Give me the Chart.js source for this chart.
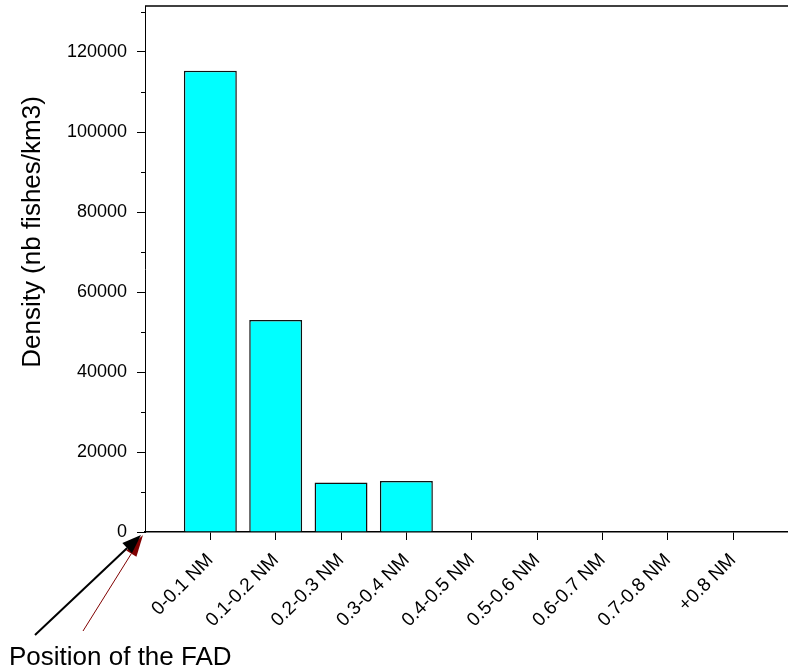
<!DOCTYPE html>
<html>
<head>
<meta charset="utf-8">
<script src="https://cdn.jsdelivr.net/npm/chart.js@4.4.1/dist/chart.umd.min.js"></script>
<style>
  html, body { margin: 0; padding: 0; background: #fff; }
  #wrap { width: 788px; height: 672px; position: relative; }
</style>
</head>
<body>
<div id="wrap"><canvas id="myChart"></canvas></div>
<script>
var categories = ['0-0.1 NM', '0.1-0.2 NM', '0.2-0.3 NM', '0.3-0.4 NM', '0.4-0.5 NM',
                  '0.5-0.6 NM', '0.6-0.7 NM', '0.7-0.8 NM', '+0.8 NM'];
var density = [115300, 53000, 12400, 12750, 0, 0, 0, 0, 0];
var yTicks = [0, 20000, 40000, 60000, 80000, 100000, 120000];
var yMinorTicks = [10000, 30000, 50000, 70000, 90000, 110000, 130000];
var yTitle = 'Density (nb fishes/km3)';
var fadText = 'Position of the FAD';

var FONT = 'Arial, "Liberation Sans", sans-serif';

function drawArrow(ctx, x1, y1, x2, y2, color, lw, headLen, headW) {
    var ang = Math.atan2(y2 - y1, x2 - x1);
    var bx = x2 - headLen * Math.cos(ang);
    var by = y2 - headLen * Math.sin(ang);
    ctx.strokeStyle = color;
    ctx.lineWidth = lw;
    ctx.beginPath();
    ctx.moveTo(x1, y1);
    ctx.lineTo(bx, by);
    ctx.stroke();
    ctx.fillStyle = color;
    ctx.beginPath();
    ctx.moveTo(x2, y2);
    ctx.lineTo(bx + headW / 2 * Math.sin(ang), by - headW / 2 * Math.cos(ang));
    ctx.lineTo(bx - headW / 2 * Math.sin(ang), by + headW / 2 * Math.cos(ang));
    ctx.closePath();
    ctx.fill();
}

// extra drawing: top frame line, minor ticks, axis title, FAD annotation
var extras = {
    id: 'extras',
    afterDraw: function(chart) {
        var ctx = chart.ctx;
        var area = chart.chartArea;
        var y = chart.scales.y;
        var x = chart.scales.x;
        ctx.save();

        ctx.strokeStyle = '#000';
        ctx.lineWidth = 1.5;
        ctx.beginPath();
        ctx.moveTo(area.left, area.top);
        ctx.lineTo(area.right, area.top);
        ctx.stroke();

        ctx.lineWidth = 1;
        yMinorTicks.forEach(function(v) {
            var py = Math.round(y.getPixelForValue(v)) + 0.5;
            ctx.beginPath();
            ctx.moveTo(area.left - 4, py);
            ctx.lineTo(area.left, py);
            ctx.stroke();
        });

        ctx.fillStyle = '#000';
        ctx.font = '26px ' + FONT;
        ctx.save();
        ctx.translate(40, 232);
        ctx.rotate(-Math.PI / 2);
        ctx.textAlign = 'center';
        ctx.textBaseline = 'alphabetic';
        ctx.fillText(yTitle, 0, 0);
        ctx.restore();

        var x0 = x.getPixelForValue(0);
        var y0 = y.getPixelForValue(0);
        drawArrow(ctx, 83, 631, x0 - 2, y0 + 3, '#800000', 1, 22, 12);
        drawArrow(ctx, 35, 635, x0 - 4, y0 + 3, '#000', 2, 19, 14);

        ctx.fillStyle = '#000';
        ctx.font = '26px ' + FONT;
        ctx.textAlign = 'left';
        ctx.textBaseline = 'alphabetic';
        ctx.fillText(fadText, 9, 665);

        ctx.restore();
    }
};

var ctx = document.getElementById('myChart').getContext('2d');
var myChart = new Chart(ctx, {
    type: 'bar',
    data: {
        datasets: [{
            label: yTitle,
            data: categories.map(function(c, i) { return { x: i + 1, y: density[i] }; }),
            backgroundColor: '#00FFFF',
            borderColor: '#111',
            borderWidth: 1.5,
            borderSkipped: 'start',
            barPercentage: 0.9,
            categoryPercentage: 0.9
        }]
    },
    options: {
        responsive: true,
        maintainAspectRatio: false,
        animation: false,
        layout: { padding: { top: 6, left: 0, right: 0, bottom: 0 } },
        plugins: {
            legend: { display: false },
            tooltip: { enabled: false }
        },
        scales: {
            x: {
                type: 'linear',
                offset: false,
                min: 0,
                max: 9.84,
                afterBuildTicks: function(scale) {
                    scale.ticks = categories.map(function(c, i) { return { value: i + 1 }; });
                },
                afterFit: function(scale) {
                    scale.height = 140;
                    scale.paddingLeft = 0;
                    scale.paddingRight = 0;
                },
                ticks: {
                    autoSkip: false,
                    minRotation: 45,
                    maxRotation: 45,
                    padding: 9,
                    color: '#000',
                    font: { family: FONT, size: 19 },
                    callback: function(value) { return categories[value - 1]; }
                },
                grid: { offset: false, drawOnChartArea: false, drawTicks: true, tickLength: 8, color: '#000' },
                border: { display: true, color: '#000', width: 1.5 }
            },
            y: {
                min: 0,
                max: 131500,
                afterBuildTicks: function(scale) {
                    scale.ticks = yTicks.map(function(v) { return { value: v }; });
                },
                afterFit: function(scale) {
                    scale.width = 145;
                    scale.paddingTop = 0;
                    scale.paddingBottom = 0;
                },
                ticks: {
                    padding: 10,
                    color: '#000',
                    font: { family: FONT, size: 18 },
                    callback: function(value) { return value; }
                },
                grid: { drawOnChartArea: false, drawTicks: true, tickLength: 8, color: '#000' },
                border: { display: true, color: '#000', width: 1 }
            }
        }
    },
    plugins: [extras]
});
</script>
</body>
</html>
